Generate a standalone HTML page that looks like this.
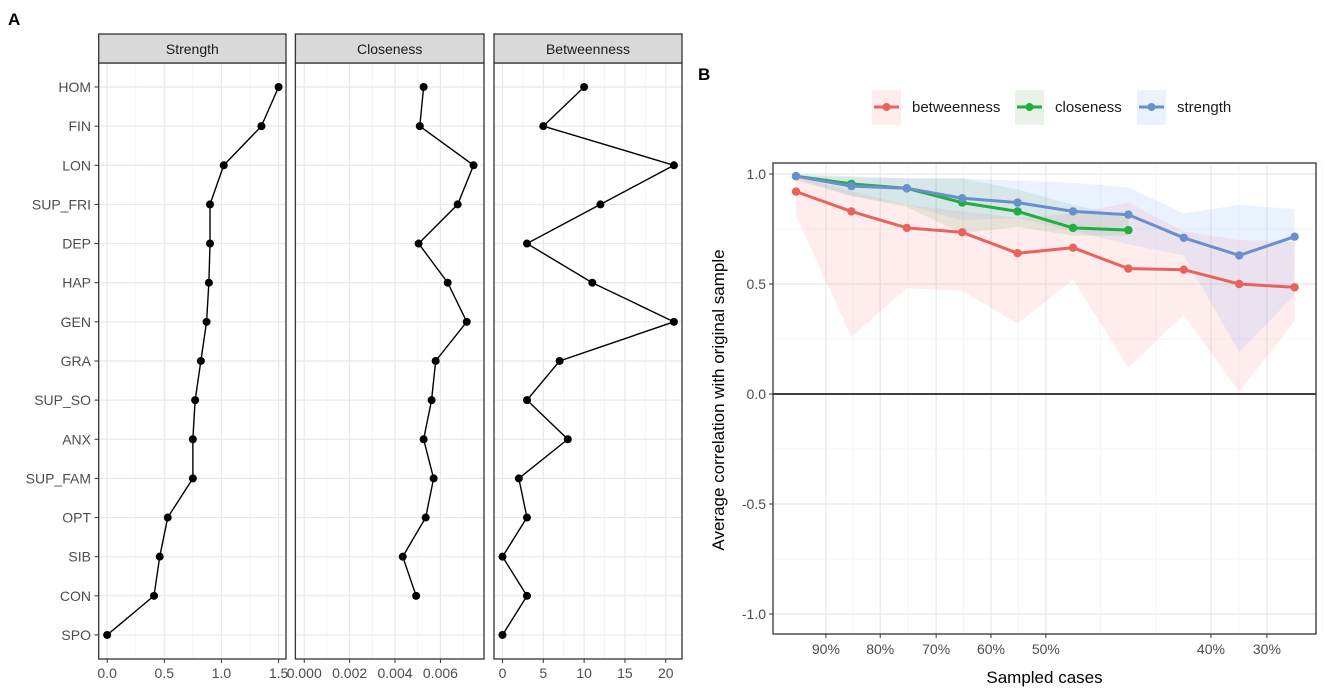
<!DOCTYPE html>
<html><head><meta charset="utf-8">
<style>
html,body{margin:0;padding:0;background:#fff;}
svg{display:block;font-family:"Liberation Sans",Arial,sans-serif;}
</style></head>
<body>
<svg id="fig" width="1325" height="696" viewBox="0 0 1325 696">
<text x="8" y="25" font-size="17" font-weight="bold">A</text>
<text x="698" y="80" font-size="17" font-weight="bold">B</text>
</svg>
<script>
// ---------- Panel A data ----------
const nodes = ["HOM","FIN","LON","SUP_FRI","DEP","HAP","GEN","GRA","SUP_SO","ANX","SUP_FAM","OPT","SIB","CON","SPO"];
const strengthVals = [1.5,1.35,1.02,0.9,0.9,0.89,0.87,0.82,0.77,0.75,0.75,0.53,0.46,0.41,0.0];
const closenessVals = [0.00526,0.00509,0.00746,0.00676,0.00504,0.00632,0.00716,0.00579,0.00561,0.00526,0.0057,0.00535,0.00434,0.00493,null];
const betweennessVals = [10,5,21,12,3,11,21,7,3,8,2,3,0,3,0];
const strengthTicks = [0,0.5,1.0,1.5];
const strengthTickLabels = ["0.0","0.5","1.0","1.5"];
const closenessTicks = [0,0.002,0.004,0.006];
const closenessTickLabels = ["0.000","0.002","0.004","0.006"];
const betweennessTicks = [0,5,10,15,20];
const betweennessTickLabels = ["0","5","10","15","20"];

// ---------- Panel B data ----------
const sampledIdx = [0,1,2,3,4,5,6,7,8,9];
const betwMean = [0.92,0.83,0.755,0.735,0.64,0.665,0.57,0.565,0.5,0.485];
const betwLow = [0.81,0.26,0.48,0.47,0.32,0.52,0.12,0.36,0.01,0.33];
const betwHigh = [0.99,0.92,0.86,0.83,0.8,0.82,0.87,0.74,0.7,0.69];
const closMean = [0.99,0.955,0.935,0.87,0.83,0.755,0.745];
const closLow = [0.97,0.9,0.85,0.73,0.76,0.72,0.72];
const closHigh = [1.0,0.99,0.98,0.98,0.93,0.86,0.8];
const strMean = [0.99,0.945,0.935,0.89,0.87,0.83,0.815,0.71,0.63,0.715];
const strLow = [0.98,0.9,0.86,0.79,0.8,0.74,0.68,0.63,0.19,0.45];
const strHigh = [0.995,0.985,0.98,0.98,0.97,0.96,0.94,0.82,0.86,0.84];
const bYTicks = [-1,-0.5,0,0.5,1];
const bYTickLabels = ["-1.0","-0.5","0.0","0.5","1.0"];
const bXTicks = [0.54,1.52,2.53,3.52,4.51,7.49,8.5];
const bXTickLabels = ["90%","80%","70%","60%","50%","40%","30%"];

const NS="http://www.w3.org/2000/svg";
const svg=document.getElementById('fig');
function mk(tag,attrs,parent){const e=document.createElementNS(NS,tag);for(const k in attrs)e.setAttribute(k,attrs[k]);(parent||svg).appendChild(e);return e;}

// ---------- Panel A ----------
const rowY = i => 87 + i*39.14;
const panelTop=63, panelBot=659;
const panels=[
 {name:"strength",title:"Strength",x0:98.7,x1:286,d0:-0.074,d1:1.565,vals:strengthVals,ticks:strengthTicks,labels:strengthTickLabels},
 {name:"closeness",title:"Closeness",x0:295.4,x1:484,d0:-0.00039,d1:0.00792,vals:closenessVals,ticks:closenessTicks,labels:closenessTickLabels},
 {name:"betweenness",title:"Betweenness",x0:494,x1:682,d0:-1.04,d1:21.99,vals:betweennessVals,ticks:betweennessTicks,labels:betweennessTickLabels}
];
panels.forEach(p=>{
  const sx=v=>p.x0+(v-p.d0)/(p.d1-p.d0)*(p.x1-p.x0);
  const g=mk('g',{});
  
  
  for(let i=0;i<p.ticks.length;i++){
    const step=p.ticks[1]-p.ticks[0];
    const m=p.ticks[i]+step/2;
    if(m<p.d1){mk('line',{x1:sx(m),x2:sx(m),y1:panelTop,y2:panelBot,stroke:'#f3f3f3','stroke-width':0.8},g);}
  }
  p.ticks.forEach((t,i)=>{
    const l=mk('line',{x1:sx(t),x2:sx(t),y1:panelTop,y2:panelBot,stroke:'#e8e8e8','stroke-width':1.2},g);
    
    
    mk('line',{x1:sx(t),x2:sx(t),y1:panelBot,y2:panelBot+4,stroke:'#333','stroke-width':1},g);
    const tx=mk('text',{x:sx(t),y:panelBot+19,'font-size':14,fill:'#4d4d4d','text-anchor':'middle'},g);
    tx.textContent=p.labels[i];
    
    
  });
  nodes.forEach((n,i)=>{
    mk('line',{x1:p.x0,x2:p.x1,y1:rowY(i),y2:rowY(i),stroke:'#e8e8e8','stroke-width':1.2},g);
  });
  let d='';let started=false;
  p.vals.forEach((v,i)=>{if(v===null)return;d+=(started?'L':'M')+sx(v)+','+rowY(i);started=true;});
  const path=mk('path',{d:d,fill:'none',stroke:'#000','stroke-width':1.4},g);
  
  
  p.vals.forEach((v,i)=>{if(v===null)return;
    const c=mk('circle',{cx:sx(v),cy:rowY(i),r:4,fill:'#000'},g);
    
    
  });
  mk('rect',{x:p.x0,y:panelTop,width:p.x1-p.x0,height:panelBot-panelTop,fill:'none',stroke:'#333','stroke-width':1.3},g);
  const st=mk('rect',{x:p.x0,y:34,width:p.x1-p.x0,height:29,fill:'#d9d9d9',stroke:'#333','stroke-width':1.3},g);
  
  
  const tt=mk('text',{x:(p.x0+p.x1)/2,y:54,'font-size':14,fill:'#1a1a1a','text-anchor':'middle'},g);
  tt.textContent=p.title;
  
  
});
nodes.forEach((n,i)=>{
  mk('line',{x1:94.5,x2:98.7,y1:rowY(i),y2:rowY(i),stroke:'#333','stroke-width':1});
  const t=mk('text',{x:91,y:rowY(i)+5,'font-size':14,fill:'#4d4d4d','text-anchor':'end'});
  t.textContent=n;
  
  
});

// ---------- Panel B ----------
const bx0=773,bx1=1316,by0=163,by1=634;
const bxs=i=>796+i*55.4;
const bys=v=>394-v*220;
const gB=mk('g',{});


[-0.75,-0.25,0.25,0.75].forEach(v=>mk('line',{x1:bx0,x2:bx1,y1:bys(v),y2:bys(v),stroke:'#f3f3f3','stroke-width':0.8},gB));
bYTicks.forEach((v,i)=>{
  mk('line',{x1:bx0,x2:bx1,y1:bys(v),y2:bys(v),stroke:'#e8e8e8','stroke-width':1.2},gB);
  mk('line',{x1:bx0-4,x2:bx0,y1:bys(v),y2:bys(v),stroke:'#333'},gB);
  const t=mk('text',{x:bx0-7,y:bys(v)+5,'font-size':14,fill:'#4d4d4d','text-anchor':'end'},gB);
  t.textContent=bYTickLabels[i];
  
  
});
for(let i=0;i<bXTicks.length-1;i++){const m=(bXTicks[i]+bXTicks[i+1])/2; if(bXTicks[i+1]-bXTicks[i]<2) mk('line',{x1:bxs(m),x2:bxs(m),y1:by0,y2:by1,stroke:'#f3f3f3','stroke-width':0.8},gB);}
[5.5,6.5,9.5].forEach(m=>mk('line',{x1:bxs(m),x2:bxs(m),y1:by0,y2:by1,stroke:'#f3f3f3','stroke-width':0.8},gB));
bXTicks.forEach((v,i)=>{
  mk('line',{x1:bxs(v),x2:bxs(v),y1:by0,y2:by1,stroke:'#e8e8e8','stroke-width':1.2},gB);
  mk('line',{x1:bxs(v),x2:bxs(v),y1:by1,y2:by1+4,stroke:'#333'},gB);
  const t=mk('text',{x:bxs(v),y:by1+20,'font-size':14,fill:'#4d4d4d','text-anchor':'middle'},gB);
  t.textContent=bXTickLabels[i];
  
  
});
function band(low,high,color,name){
  let d='';
  low.forEach((v,i)=>{d+=(i?'L':'M')+bxs(sampledIdx[i])+','+bys(high[i]);});
  for(let i=low.length-1;i>=0;i--)d+='L'+bxs(sampledIdx[i])+','+bys(low[i]);
  const p=mk('path',{d:d+'Z',fill:color,'fill-opacity':0.13,stroke:'none'},gB);
  
  
}
band(betwLow,betwHigh,'#f8766d','betweenness-band');
band(closLow,closHigh,'#4a9a3a','closeness-band');
band(strLow,strHigh,'#619cff','strength-band');
mk('line',{x1:bx0,x2:bx1,y1:bys(0),y2:bys(0),stroke:'#000','stroke-width':1.6},gB);
function series(vals,color,name){
  let d='';vals.forEach((v,i)=>{d+=(i?'L':'M')+bxs(sampledIdx[i])+','+bys(v);});
  const p=mk('path',{d:d,fill:'none',stroke:color,'stroke-width':3},gB);
  
  
  vals.forEach((v,i)=>{
    const c=mk('circle',{cx:bxs(sampledIdx[i]),cy:bys(v),r:4.2,fill:color},gB);
    
    
  });
}
series(betwMean,'#e8635c','betweenness');
series(closMean,'#1fae3f','closeness');
series(strMean,'#6a8fcf','strength');
mk('rect',{x:bx0,y:by0,width:bx1-bx0,height:by1-by0,fill:'none',stroke:'#333','stroke-width':1.3},gB);
const xt=mk('text',{x:(bx0+bx1)/2,y:683,'font-size':17,fill:'#000','text-anchor':'middle'},gB);
xt.textContent='Sampled cases';


const yt=mk('text',{x:0,y:0,'font-size':17,fill:'#000','text-anchor':'middle',transform:'translate(724,400) rotate(-90)'},gB);
yt.textContent='Average correlation with original sample';


const legend=[["betweenness","#e8635c","#f8766d",872],["closeness","#1fae3f","#4a9a3a",1015],["strength","#6a8fcf","#619cff",1137]];
legend.forEach(L=>{
  const g=mk('g',{},gB);
  
  
  const x=L[3];
  mk('rect',{x:x,y:90,width:29,height:35,fill:L[2],'fill-opacity':0.13},g);
  mk('line',{x1:x+2,x2:x+27,y1:107,y2:107,stroke:L[1],'stroke-width':3},g);
  mk('circle',{cx:x+14.5,cy:107,r:4,fill:L[1]},g);
  const t=mk('text',{x:x+40,y:112,'font-size':15,fill:'#1a1a1a'},g);
  t.textContent=L[0];
});
</script>
</body></html>
